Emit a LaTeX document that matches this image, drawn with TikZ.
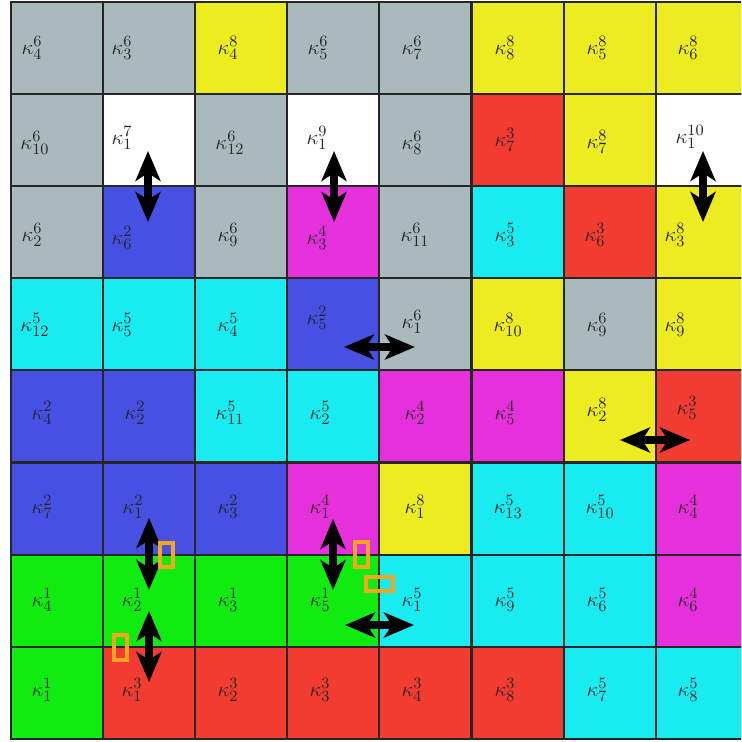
\documentclass[tikz,border=0pt]{standalone}
\usetikzlibrary{arrows.meta}
\definecolor{cg}{RGB}{170,185,187}
\definecolor{cy}{RGB}{236,236,32}
\definecolor{cr}{RGB}{242,60,50}
\definecolor{cc}{RGB}{24,236,240}
\definecolor{cb}{RGB}{70,80,226}
\definecolor{cm}{RGB}{230,48,220}
\definecolor{cn}{RGB}{16,236,16}
\definecolor{cw}{RGB}{255,255,255}
\definecolor{co}{RGB}{245,165,30}
\begin{document}
\begin{tikzpicture}[x=0.02cm,y=-0.02cm,
  cell/.style={draw=black!85, line width=1.2pt, minimum size=1.842cm, inner sep=0pt, outer sep=0pt},
  lab/.style={font=\fontsize{13}{15}\selectfont, inner sep=0pt, text=black!85},
  dbl/.style={{Stealth[length=6mm,width=5mm,inset=1.6mm]}-{Stealth[length=6mm,width=5mm,inset=1.6mm]}, line width=4.4pt, black},
  orng/.style={draw=co, line width=2pt}]
\useasboundingbox (0,0) rectangle (741,742);
\fill[white] (0,0) rectangle (741,742);
\begin{scope}
\clip (0,0) rectangle (741,742);
\foreach \row [count=\j from 0] in {{cg,cg,cy,cg,cg,cy,cy,cy},{cg,cw,cg,cw,cg,cr,cy,cw},{cg,cb,cg,cm,cg,cc,cr,cy},{cc,cc,cc,cb,cg,cy,cg,cy},{cb,cb,cc,cc,cm,cm,cy,cr},{cb,cb,cb,cm,cy,cc,cc,cm},{cn,cn,cn,cn,cc,cc,cc,cm},{cn,cr,cr,cr,cr,cr,cc,cc}}{
  \foreach \c [count=\i from 0] in \row {
    \node[cell, fill=\c] (c\i\j) at ({11+92.1*(\i+0.5)},{2+92.1*(\j+0.5)}) {};
  }
}
\end{scope}
% row 0
\node[lab] (l00) at (32,48) {$\kappa^{6}_{4}$};
\node[lab] (l10) at (122,48) {$\kappa^{6}_{3}$};
\node[lab] (l20) at (228,48) {$\kappa^{8}_{4}$};
\node[lab] (l30) at (318,48) {$\kappa^{6}_{5}$};
\node[lab] (l40) at (412,48) {$\kappa^{6}_{7}$};
\node[lab] (l50) at (505,48) {$\kappa^{8}_{8}$};
\node[lab] (l60) at (597,48) {$\kappa^{8}_{5}$};
\node[lab] (l70) at (688,48) {$\kappa^{8}_{6}$};
% row 1
\node[lab] (l01) at (35,143) {$\kappa^{6}_{10}$};
\node[lab] (l11) at (122,138) {$\kappa^{7}_{1}$};
\node[lab] (l21) at (230,143) {$\kappa^{6}_{12}$};
\node[lab] (l31) at (317,138) {$\kappa^{9}_{1}$};
\node[lab] (l41) at (412,143) {$\kappa^{6}_{8}$};
\node[lab] (l51) at (505,140) {$\kappa^{3}_{7}$};
\node[lab] (l61) at (597,142) {$\kappa^{8}_{7}$};
\node[lab] (l71) at (690,137) {$\kappa^{10}_{1}$};
% row 2
\node[lab] (l02) at (32,235) {$\kappa^{6}_{2}$};
\node[lab] (l12) at (122,238) {$\kappa^{2}_{6}$};
\node[lab] (l22) at (228,235) {$\kappa^{6}_{9}$};
\node[lab] (l32) at (317,238) {$\kappa^{4}_{3}$};
\node[lab] (l42) at (415,235) {$\kappa^{6}_{11}$};
\node[lab] (l52) at (505,235) {$\kappa^{5}_{3}$};
\node[lab] (l62) at (595,235) {$\kappa^{3}_{6}$};
\node[lab] (l72) at (675,235) {$\kappa^{8}_{3}$};
% row 3
\node[lab] (l03) at (35,325) {$\kappa^{5}_{12}$};
\node[lab] (l13) at (122,325) {$\kappa^{5}_{5}$};
\node[lab] (l23) at (228,325) {$\kappa^{5}_{4}$};
\node[lab] (l33) at (317,318) {$\kappa^{2}_{5}$};
\node[lab] (l43) at (412,322) {$\kappa^{6}_{1}$};
\node[lab] (l53) at (508,325) {$\kappa^{8}_{10}$};
\node[lab] (l63) at (597,325) {$\kappa^{6}_{9}$};
\node[lab] (l73) at (675,325) {$\kappa^{8}_{9}$};
% row 4
\node[lab] (l04) at (42,413) {$\kappa^{2}_{4}$};
\node[lab] (l14) at (135,413) {$\kappa^{2}_{2}$};
\node[lab] (l24) at (230,413) {$\kappa^{5}_{11}$};
\node[lab] (l34) at (320,413) {$\kappa^{5}_{2}$};
\node[lab] (l44) at (415,413) {$\kappa^{4}_{2}$};
\node[lab] (l54) at (505,413) {$\kappa^{4}_{5}$};
\node[lab] (l64) at (597,410) {$\kappa^{8}_{2}$};
\node[lab] (l74) at (687,408) {$\kappa^{3}_{5}$};
% row 5
\node[lab] (l05) at (42,507) {$\kappa^{2}_{7}$};
\node[lab] (l15) at (133,507) {$\kappa^{2}_{1}$};
\node[lab] (l25) at (228,507) {$\kappa^{2}_{3}$};
\node[lab] (l35) at (320,507) {$\kappa^{4}_{1}$};
\node[lab] (l45) at (415,507) {$\kappa^{8}_{1}$};
\node[lab] (l55) at (508,507) {$\kappa^{5}_{13}$};
\node[lab] (l65) at (600,507) {$\kappa^{5}_{10}$};
\node[lab] (l75) at (688,507) {$\kappa^{4}_{4}$};
% row 6
\node[lab] (l06) at (42,600) {$\kappa^{1}_{4}$};
\node[lab] (l16) at (132,600) {$\kappa^{1}_{2}$};
\node[lab] (l26) at (228,600) {$\kappa^{1}_{3}$};
\node[lab] (l36) at (320,600) {$\kappa^{1}_{5}$};
\node[lab] (l46) at (412,600) {$\kappa^{5}_{1}$};
\node[lab] (l56) at (505,600) {$\kappa^{5}_{9}$};
\node[lab] (l66) at (597,600) {$\kappa^{5}_{6}$};
\node[lab] (l76) at (688,600) {$\kappa^{4}_{6}$};
% row 7
\node[lab] (l07) at (42,690) {$\kappa^{1}_{1}$};
\node[lab] (l17) at (132,690) {$\kappa^{3}_{1}$};
\node[lab] (l27) at (228,690) {$\kappa^{3}_{2}$};
\node[lab] (l37) at (320,690) {$\kappa^{3}_{3}$};
\node[lab] (l47) at (412,690) {$\kappa^{3}_{4}$};
\node[lab] (l57) at (505,690) {$\kappa^{3}_{8}$};
\node[lab] (l67) at (597,690) {$\kappa^{5}_{7}$};
\node[lab] (l77) at (688,690) {$\kappa^{5}_{8}$};
% arrows
\coordinate (a1s) at (148,151); \coordinate (a1e) at (148,222);
\coordinate (a2s) at (334,151); \coordinate (a2e) at (334,222);
\coordinate (a3s) at (703,151); \coordinate (a3e) at (703,222);
\coordinate (a4s) at (344,347); \coordinate (a4e) at (415,347);
\coordinate (a5s) at (620,440); \coordinate (a5e) at (690,440);
\coordinate (a6s) at (149,518); \coordinate (a6e) at (149,590);
\coordinate (a7s) at (149,611); \coordinate (a7e) at (149,682);
\coordinate (a8s) at (333,519); \coordinate (a8e) at (333,590);
\coordinate (a9s) at (345,625); \coordinate (a9e) at (414,625);
\foreach \k in {1,...,9} { \draw[dbl] (a\k s) -- (a\k e); }
% orange boxes
\draw[orng] (160,543) rectangle (173,567);
\draw[orng] (114,635) rectangle (127,660);
\draw[orng] (355,542) rectangle (368,567);
\draw[orng] (366,577) rectangle (393,591);
\end{tikzpicture}
\end{document}
